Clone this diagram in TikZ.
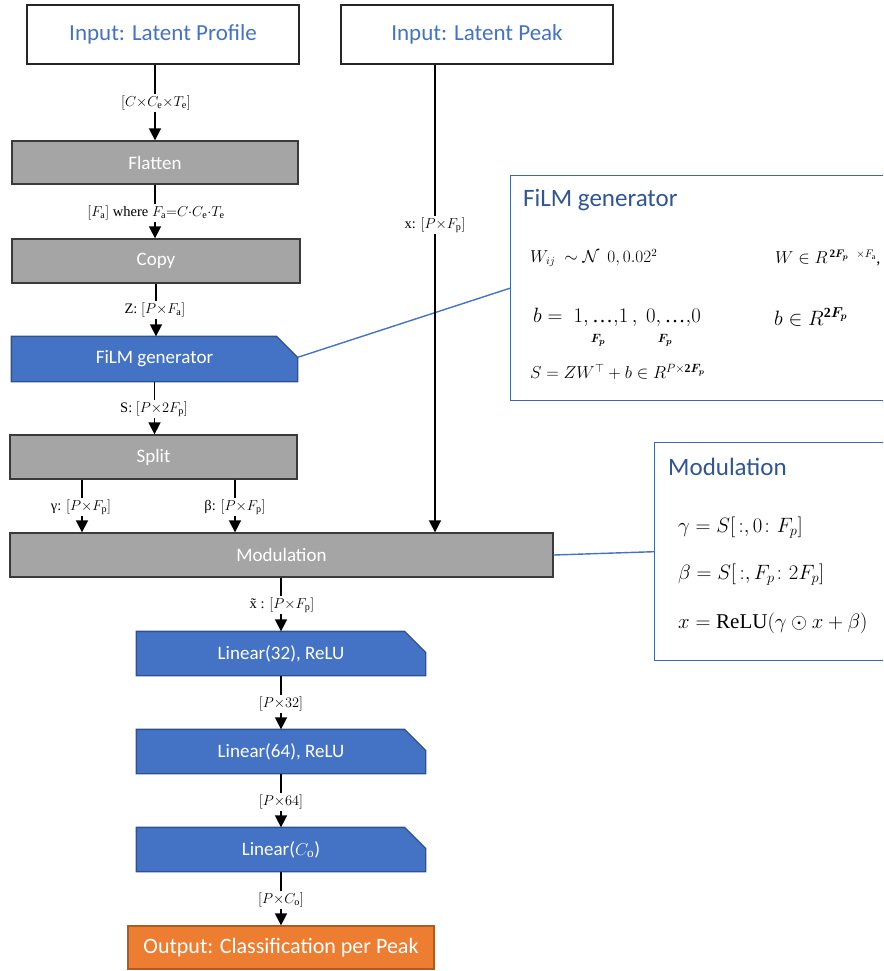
\documentclass[tikz,border=0pt]{standalone}
\usepackage{fontspec}
\usepackage{amsmath}
\setmainfont{Liberation Serif}
\newfontfamily\calibri{Carlito}
\usetikzlibrary{arrows.meta,backgrounds}

\definecolor{officeblue}{HTML}{4472C4}
\definecolor{blueedge}{HTML}{2F528F}
\definecolor{panelblue}{HTML}{3E67AF}
\definecolor{titleblue}{HTML}{2F5597}
\definecolor{boxgray}{HTML}{A5A5A5}
\definecolor{grayedge}{HTML}{3A3A3A}
\definecolor{outorange}{HTML}{ED7D31}
\definecolor{orangeedge}{HTML}{AE5A21}

\newcommand{\bFp}{\boldsymbol{F_p}}
\newcommand{\tdots}{\text{…}}

\begin{document}
\begin{tikzpicture}[x=1pt,y=-1pt,
  box/.style={draw=grayedge, line width=1.3pt, inner sep=0pt,
    font=\calibri\fontsize{19}{23}\selectfont},
  inbox/.style={box, fill=white, draw=black!85, text=officeblue,
    minimum width=272pt, minimum height=59pt,
    font=\calibri\fontsize{23}{27}\selectfont},
  graybox/.style={box, fill=boxgray, text=white, minimum height=44pt},
  bluebox/.style={box, draw=none, text=white, minimum height=44pt},
  chamfer/.style={fill=officeblue, draw=blueedge, line width=1.3pt},
  outbox/.style={box, fill=outorange, draw=orangeedge, text=white,
    minimum width=306pt, minimum height=43pt,
    font=\calibri\fontsize{22}{26}\selectfont},
  arr/.style={line width=1.6pt, -{Triangle[width=12pt,length=12pt]}},
  lbl/.style={fill=white, inner sep=1.5pt, font=\fontsize{14.5}{16}\selectfont},
  link/.style={draw=officeblue, line width=1.4pt},
  panel/.style={draw=panelblue, line width=1.4pt, fill=white, inner sep=0pt},
  ptitle/.style={anchor=west, text=titleblue, inner sep=0pt,
    font=\calibri\fontsize{25}{29}\selectfont},
  eq/.style={anchor=west, inner sep=0pt},
  modeq/.style={eq, font=\fontsize{21}{25}\selectfont},
]
\clip (0,0) rectangle (883,971);

% explanation panels (right edge runs off the page)
\node[panel, anchor=north west, minimum width=380pt, minimum height=225pt] (filmP) at (510,175) {};
\node[panel, anchor=north west, minimum width=236pt, minimum height=218pt] (modP) at (654,442) {};

% main pipeline
\node[inbox] (inLP) at (163,34.5) {Input: Latent Profile};
\node[inbox] (inPK) at (477,34.5) {Input: Latent Peak};
\node[graybox, minimum width=286pt, minimum height=43pt] (flat) at (155,162.5) {Flatten};
\node[graybox, minimum width=288pt] (copy) at (156,261) {Copy};
\node[bluebox, minimum width=285pt] (film) at (154.5,359) {FiLM generator};
\node[graybox, minimum width=287pt] (split) at (153.5,457) {Split};
\node[graybox, minimum width=543pt] (mod) at (281.5,555) {Modulation};
\node[bluebox, minimum width=288pt, minimum height=43pt] (lin1) at (281,653.5) {Linear(32), ReLU};
\node[bluebox, minimum width=288pt, minimum height=43pt] (lin2) at (281,751.5) {Linear(64), ReLU};
\node[bluebox, minimum width=288pt, minimum height=43pt] (lin3) at (281,849.5) {Linear($C_\mathrm{o}$)};
\node[outbox] (out) at (281,947.5) {Output: Classification per Peak};

% blue layer boxes with a cut top-right corner
\begin{scope}[on background layer]
  \foreach \n in {film,lin1,lin2,lin3}
    \draw[chamfer] (\n.south west) -- (\n.north west) -- ([xshift=-21pt]\n.north east)
      -- ([yshift=-21pt]\n.north east) -- (\n.south east) -- cycle;
\end{scope}

% callout links
\draw[link] ([yshift=-21pt]film.north east) -- (filmP.west);
\draw[link] (mod.east) -- (modP.west);

% data flow
\coordinate (gx) at (82,0);
\coordinate (bx) at (235,0);
\coordinate (px) at (435,0);
\draw[arr] (inLP.south -| flat.north) -- (flat.north);
\draw[arr] (flat.south) -- (flat.south |- copy.north);
\draw[arr] (copy.south) -- (copy.south |- film.north);
\draw[arr] (film.south) -- (film.south |- split.north);
\draw[arr] (split.south -| gx) -- (mod.north -| gx);
\draw[arr] (split.south -| bx) -- (mod.north -| bx);
\draw[arr] (inPK.south -| px) -- (mod.north -| px);
\draw[arr] (mod.south -| lin1.north) -- (lin1.north);
\draw[arr] (lin1.south) -- (lin2.north);
\draw[arr] (lin2.south) -- (lin3.north);
\draw[arr] (lin3.south) -- (out.north);

% tensor shapes on the connectors
\node[lbl] (l1) at (156,103) {$[C{\times}C_\mathrm{e}{\times}T_\mathrm{e}]$};
\node[lbl] (l2) at (156,213) {$[F_\mathrm{a}]$ where $F_\mathrm{a}{=}C{\cdot}C_\mathrm{e}{\cdot}T_\mathrm{e}$};
\node[lbl] (l3) at (155,310) {Z: $[P{\times}F_\mathrm{a}]$};
\node[lbl] (l4) at (154,409) {S: $[P{\times}2F_\mathrm{p}]$};
\node[lbl] (l5) at (81,507) {γ: $[P{\times}F_\mathrm{p}]$};
\node[lbl] (l6) at (235,507) {β: $[P{\times}F_\mathrm{p}]$};
\node[lbl] (l7) at (435,225) {x: $[P{\times}F_\mathrm{p}]$};
\node[lbl] (l8) at (282,605) {\~{x} : $[P{\times}F_\mathrm{p}]$};
\node[lbl] (l9) at (281,704) {$[P{\times}32]$};
\node[lbl] (l10) at (281,802) {$[P{\times}64]$};
\node[lbl] (l11) at (281,900) {$[P{\times}C_\mathrm{o}]$};

% FiLM generator panel contents
\node[ptitle] (filmT) at (523,200) {FiLM generator};
\node[eq, font=\fontsize{16}{18}\selectfont] (eqW) at (530,258)
  {$W_{ij}\ \sim \mathcal{N}\ \ 0, 0.02^2$};
\node[eq, font=\fontsize{16}{18}\selectfont] (eqWdim) at (775,258)
  {$W \in R^{\,\mathbf{2}\bFp\ \ \times F_\mathrm{a}}$,};
\node[eq, font=\fontsize{21}{25}\selectfont] (eqb) at (533,317)
  {$b =\ 1,\tdots{,}1\,,\ 0,\tdots{,}0$};
\node[inner sep=0pt, font=\fontsize{13}{15}\selectfont] (fp1) at (598,340) {$\bFp$};
\node[inner sep=0pt, font=\fontsize{13}{15}\selectfont] (fp2) at (665,340) {$\bFp$};
\node[eq, font=\fontsize{20}{24}\selectfont] (eqbdim) at (774,317)
  {$b \in R^{\mathbf{2}\bFp}$};
\node[eq, font=\fontsize{17}{21}\selectfont] (eqS) at (530,372)
  {$S = ZW^{\top} + b \in R^{P\times \mathbf{2}\bFp}$};

% Modulation panel contents
\node[ptitle] (modT) at (668,467) {Modulation};
\node[modeq] (eqg) at (678,528) {$\gamma = S[\,:,0\colon F_p]$};
\node[modeq] (eqbeta) at (678,575) {$\beta = S[\,:,F_p\colon 2F_p]$};
\node[modeq] (eqx) at (678,623) {$x = \mathrm{ReLU}(\gamma \odot x + \beta)$};
\end{tikzpicture}
\end{document}
